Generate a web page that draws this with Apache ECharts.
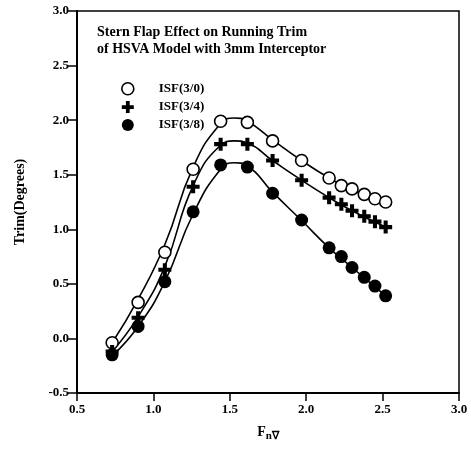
<!DOCTYPE html>
<html>
<head>
<meta charset="utf-8">
<script src="https://cdn.jsdelivr.net/npm/echarts@6/dist/echarts.min.js"></script>
<style>html,body{margin:0;padding:0;background:#fff}#c{width:471px;height:449px}</style>
</head>
<body>
<div id="c"></div>
<script>
// measured points
const fn = [0.73, 0.90, 1.075, 1.26, 1.44, 1.615, 1.78, 1.97, 2.15, 2.23, 2.30, 2.38, 2.45, 2.52];
const isf30 = [-0.04, 0.33, 0.79, 1.55, 1.99, 1.98, 1.81, 1.63, 1.47, 1.40, 1.37, 1.32, 1.28, 1.25];
const isf34 = [-0.12, 0.19, 0.63, 1.39, 1.78, 1.78, 1.63, 1.45, 1.29, 1.23, 1.17, 1.12, 1.07, 1.02];
const isf38 = [-0.15, 0.11, 0.52, 1.16, 1.59, 1.57, 1.33, 1.085, 0.83, 0.75, 0.65, 0.56, 0.48, 0.39];
// fitted curves, values
const curveFn = [0.73, 0.90, 1.075, 1.26, 1.44, 1.53, 1.615, 1.78, 1.97, 2.15, 2.30, 2.52];
const fit30 = [-0.04, 0.36, 0.86, 1.57, 1.97, 2.02, 1.99, 1.82, 1.63, 1.47, 1.36, 1.24];
const fit34 = [-0.12, 0.20, 0.66, 1.40, 1.77, 1.81, 1.79, 1.63, 1.45, 1.29, 1.17, 1.02];
const fit38 = [-0.16, 0.11, 0.52, 1.14, 1.55, 1.61, 1.58, 1.34, 1.08, 0.83, 0.65, 0.39];
const seriesNames = ['ISF(3/0)', 'ISF(3/4)', 'ISF(3/8)'];
const xTicks = [0.5, 1.0, 1.5, 2.0, 2.5, 3.0];
const yTicks = [-0.5, 0.0, 0.5, 1.0, 1.5, 2.0, 2.5, 3.0];

const pts = (xs, arr) => xs.map((x, i) => [x, arr[i]]);
const font = 'Liberation Serif';
const plusPath = 'path://M-1,-3.2h2v2.2h2.2v2h-2.2v2.2h-2v-2.2h-2.2v-2h2.2z';

const chart = echarts.init(document.getElementById('c'), null, {renderer: 'canvas'});
const lineS = arr => ({
  type: 'line', data: pts(curveFn, arr), smooth: 0.5, showSymbol: false, silent: true,
  lineStyle: {color: '#000', width: 1.6}, z: 1
});
chart.setOption({
  animation: false,
  backgroundColor: '#fff',
  title: {
    text: 'Stern Flap Effect on Running Trim\nof HSVA Model with 3mm Interceptor',
    left: 97, top: 24, padding: 0,
    textStyle: {fontFamily: font, fontWeight: 'bold', fontSize: 14, color: '#000', lineHeight: 17}
  },
  legend: {
    orient: 'vertical', left: 116, top: 77, itemGap: 5, itemWidth: 14, itemHeight: 12,
    data: [
      {name: seriesNames[0], icon: 'circle', itemStyle: {color: '#fff', borderColor: '#000', borderWidth: 1.6}},
      {name: seriesNames[1], icon: plusPath, itemStyle: {color: '#000'}},
      {name: seriesNames[2], icon: 'circle', itemStyle: {color: '#000'}}
    ],
    textStyle: {fontFamily: font, fontWeight: 'bold', fontSize: 13, color: '#000', padding: [0, 0, 0, 19]}
  },
  grid: {left: 77, right: 12, top: 11, bottom: 56, show: true, borderColor: '#000', borderWidth: 1.5, backgroundColor: 'transparent'},
  xAxis: {
    type: 'value', min: 0.5, max: 3.0, interval: 0.5,
    name: '{f|F}{s|n\u2207}', nameLocation: 'middle', nameGap: 30,
    nameTextStyle: {rich: {f: {fontFamily: font, fontWeight: 'bold', fontSize: 14, color: '#000'},
                           s: {fontFamily: font, fontWeight: 'bold', fontSize: 11, color: '#000', padding: [8, 0, 0, 0]}}},
    axisLine: {onZero: false, lineStyle: {color: '#000', width: 2}},
    axisTick: {length: 8, lineStyle: {color: '#000', width: 1.5}},
    splitLine: {show: false},
    axisLabel: {fontFamily: font, fontWeight: 'bold', fontSize: 13, color: '#000', margin: 10,
                formatter: v => xTicks.includes(+v.toFixed(1)) ? v.toFixed(1) : ''}
  },
  yAxis: {
    type: 'value', min: -0.5, max: 3.0, interval: 0.5,
    name: 'Trim(Degrees)', nameLocation: 'middle', nameGap: 50,
    nameTextStyle: {fontFamily: font, fontWeight: 'bold', fontSize: 14, color: '#000'},
    axisLine: {onZero: false, lineStyle: {color: '#000', width: 2}},
    axisTick: {length: 10, lineStyle: {color: '#000', width: 1.5}},
    splitLine: {show: false},
    axisLabel: {fontFamily: font, fontWeight: 'bold', fontSize: 13, color: '#000', margin: 8,
                formatter: v => yTicks.includes(+v.toFixed(1)) ? v.toFixed(1) : ''}
  },
  series: [
    lineS(fit30), lineS(fit34), lineS(fit38),
    {name: seriesNames[0], type: 'scatter', data: pts(fn, isf30), symbol: 'circle', symbolSize: 12,
     itemStyle: {color: '#fff', borderColor: '#000', borderWidth: 1.6, opacity: 1}, z: 3},
    {name: seriesNames[1], type: 'scatter', data: pts(fn, isf34), symbol: plusPath, symbolSize: 13,
     itemStyle: {color: '#000', opacity: 1}, z: 3},
    {name: seriesNames[2], type: 'scatter', data: pts(fn, isf38), symbol: 'circle', symbolSize: 13,
     itemStyle: {color: '#000', opacity: 1}, z: 3}
  ]
});
</script>
</body>
</html>
